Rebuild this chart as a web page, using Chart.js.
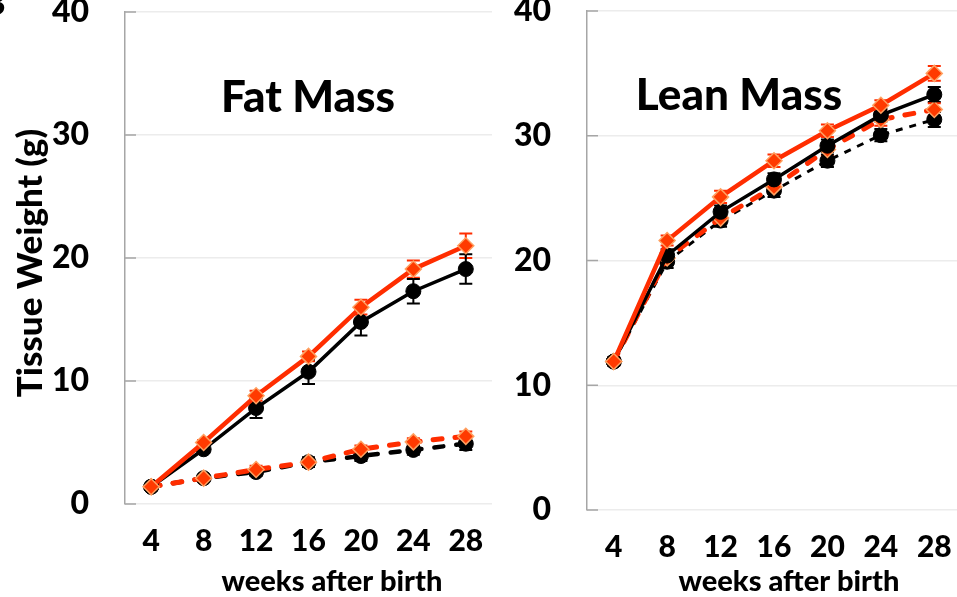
<!DOCTYPE html>
<html lang="en">
<head>
  <meta charset="UTF-8" />
  <title>Fat Mass / Lean Mass</title>
  <script src="https://cdn.jsdelivr.net/npm/chart.js"></script>
  <style>
    html, body { margin: 0; padding: 0; background: #fff; overflow: hidden; }
    .panel { position: absolute; top: 0; height: 597px; }
    #left { left: 0; width: 500px; }
    #right { left: 500px; width: 461px; }
  </style>
</head>
<body>
  <div class="panel" id="left"><canvas id="fatChart"></canvas></div>
  <div class="panel" id="right"><canvas id="leanChart"></canvas></div>

  <script>
    // weeks after birth
    const weeks = ['4', '8', '12', '16', '20', '24', '28'];
    const yTicks = [0, 10, 20, 30, 40];

    // Fat mass (g)
    const fatRedSolid = [1.4, 5.0, 8.8, 12.0, 16.0, 19.1, 21.0];
    const fatRedSolidErr = [0.2, 0.2, 0.4, 0.4, 0.6, 0.7, 1.0];
    const fatBlackSolid = [1.4, 4.45, 7.8, 10.75, 14.8, 17.3, 19.1];
    const fatBlackSolidErr = [0.2, 0.3, 0.8, 1.0, 1.1, 1.0, 1.2];
    const fatRedDashed = [1.4, 2.1, 2.8, 3.4, 4.45, 5.05, 5.5];
    const fatRedDashedErr = [0.2, 0.2, 0.3, 0.3, 0.3, 0.3, 0.4];
    const fatBlackDashed = [1.4, 2.1, 2.6, 3.4, 3.9, 4.4, 4.9];
    const fatBlackDashedErr = [0.2, 0.2, 0.3, 0.4, 0.4, 0.4, 0.5];

    // Lean mass (g)
    const leanRedSolid = [11.9, 21.6, 25.1, 28.0, 30.4, 32.45, 35.0];
    const leanRedSolidErr = [0.3, 0.4, 0.5, 0.5, 0.5, 0.4, 0.6];
    const leanBlackSolid = [11.9, 20.4, 23.9, 26.5, 29.2, 31.65, 33.3];
    const leanBlackSolidErr = [0.3, 0.5, 0.5, 0.5, 0.5, 0.5, 0.6];
    const leanRedDashed = [11.9, 20.2, 23.4, 25.9, 28.9, 31.3, 32.1];
    const leanRedDashedErr = [0.3, 0.4, 0.5, 0.5, 0.5, 0.5, 0.5];
    const leanBlackDashed = [11.9, 19.9, 23.2, 25.6, 28.0, 30.05, 31.3];
    const leanBlackDashedErr = [0.3, 0.5, 0.5, 0.5, 0.5, 0.5, 0.6];

    const RED = '#ff2d00';
    const FONT = 'Lato, "Open Sans", sans-serif';
    const W = 900;

    // error bars + inner y tick marks + panel texts
    const extras = {
      id: 'extras',
      beforeDatasetsDraw(chart) {
        const ctx = chart.ctx;
        const y = chart.scales.y;
        chart.data.datasets.forEach((ds, i) => {
          const meta = chart.getDatasetMeta(i);
          ctx.save();
          ctx.strokeStyle = ds.errColor;
          ctx.lineWidth = 2;
          meta.data.forEach((pt, j) => {
            const v = ds.data[j], e = ds.err[j];
            const top = y.getPixelForValue(v + e);
            const bot = y.getPixelForValue(v - e);
            ctx.beginPath();
            ctx.moveTo(pt.x, top); ctx.lineTo(pt.x, bot);
            ctx.moveTo(pt.x - 6.5, top); ctx.lineTo(pt.x + 6.5, top);
            ctx.moveTo(pt.x - 6.5, bot); ctx.lineTo(pt.x + 6.5, bot);
            ctx.stroke();
          });
          ctx.restore();
        });
      },
      afterDraw(chart, args, opts) {
        const ctx = chart.ctx;
        const area = chart.chartArea;
        const y = chart.scales.y;
        ctx.save();
        ctx.strokeStyle = '#a6a6a6';
        ctx.lineWidth = 1.5;
        yTicks.forEach(t => {
          const py = y.getPixelForValue(t);
          ctx.beginPath();
          ctx.moveTo(area.left, py); ctx.lineTo(area.left + 11, py);
          ctx.stroke();
        });
        ctx.fillStyle = '#000';
        ctx.textAlign = 'center';
        ctx.textBaseline = 'alphabetic';
        ctx.font = W + ' 44px ' + FONT;
        ctx.fillText(opts.title, opts.titleX, opts.titleY);
        ctx.font = W + ' 29px ' + FONT;
        ctx.fillText('weeks after birth', opts.xTitleX, 591);
        if (opts.yTitle) {
          ctx.translate(31, 263);
          ctx.rotate(-Math.PI / 2);
          ctx.textBaseline = 'middle';
          ctx.font = W + ' 35px ' + FONT;
          ctx.fillText('Tissue Weight (g)', 0, 0);
          ctx.setTransform(1, 0, 0, 1, 0, 0);
          ctx.textAlign = 'left';
          ctx.textBaseline = 'alphabetic';
          ctx.font = W + ' 34px ' + FONT;
          ctx.fillText('B', -17, 15);
        }
        ctx.restore();
      }
    };

    function series(label, data, err, red, dashed, thin) {
      return {
        label: label,
        data: data,
        err: err,
        errColor: red ? RED : '#000',
        borderColor: red ? RED : '#000',
        borderWidth: red ? (dashed ? 5 : 4.5) : (dashed ? (thin ? 3 : 4.5) : 3.5),
        borderDash: dashed ? (thin ? [7, 7] : [9, 13]) : [],
        borderCapStyle: dashed && !thin ? 'round' : 'butt',
        pointStyle: red ? 'rectRot' : 'circle',
        pointRadius: red ? 8 : 7.5,
        pointBackgroundColor: red ? '#ff3a00' : '#000',
        pointBorderColor: red ? '#ffa060' : '#000',
        pointBorderWidth: red ? 1.5 : 1,
        fill: false,
        tension: 0
      };
    }

    function makeChart(id, cfg) {
      return new Chart(document.getElementById(id), {
        type: 'line',
        data: {
          labels: weeks,
          datasets: cfg.datasets
        },
        options: {
          responsive: true,
          maintainAspectRatio: false,
          animation: false,
          layout: { autoPadding: false, padding: { left: 0, right: cfg.padRight, top: cfg.padTop, bottom: 0 } },
          plugins: {
            legend: { display: false },
            tooltip: { enabled: false },
            extras: cfg.extras
          },
          scales: {
            x: {
              offset: true,
              grid: { display: false },
              border: { display: false },
              ticks: { color: '#000', font: { family: FONT, size: 30, weight: W }, padding: 11 },
              afterFit: s => {
                s.height = cfg.xHeight;
                s.paddingLeft = 0; s.paddingRight = 0;
              }
            },
            y: {
              min: 0,
              max: 40,
              ticks: { stepSize: 10, color: '#000', font: { family: FONT, size: 32, weight: W }, padding: 36 },
              grid: { color: '#ececec', lineWidth: 1.5, drawTicks: false },
              border: { color: '#a6a6a6', width: 1.5 },
              afterFit: s => {
                s.width = cfg.yWidth;
                s.paddingTop = 0; s.paddingBottom = 0;
              }
            }
          }
        },
        plugins: [extras]
      });
    }

    makeChart('fatChart', {
      padRight: 8, padTop: 12, xHeight: 93, yWidth: 125,
      extras: { title: 'Fat Mass', titleX: 308, titleY: 112, xTitleX: 332, yTitle: true },
      datasets: [
        series('Red solid', fatRedSolid, fatRedSolidErr, true, false),
        series('Black solid', fatBlackSolid, fatBlackSolidErr, false, false),
        series('Red dashed', fatRedDashed, fatRedDashedErr, true, true),
        series('Black dashed', fatBlackDashed, fatBlackDashedErr, false, true)
      ]
    });

    makeChart('leanChart', {
      padRight: 0, padTop: 11, xHeight: 87, yWidth: 87,
      extras: { title: 'Lean Mass', titleX: 239, titleY: 110, xTitleX: 289, yTitle: false },
      datasets: [
        series('Red solid', leanRedSolid, leanRedSolidErr, true, false),
        series('Black solid', leanBlackSolid, leanBlackSolidErr, false, false),
        series('Red dashed', leanRedDashed, leanRedDashedErr, true, true),
        series('Black dashed', leanBlackDashed, leanBlackDashedErr, false, true, true)
      ]
    });
  </script>
</body>
</html>
